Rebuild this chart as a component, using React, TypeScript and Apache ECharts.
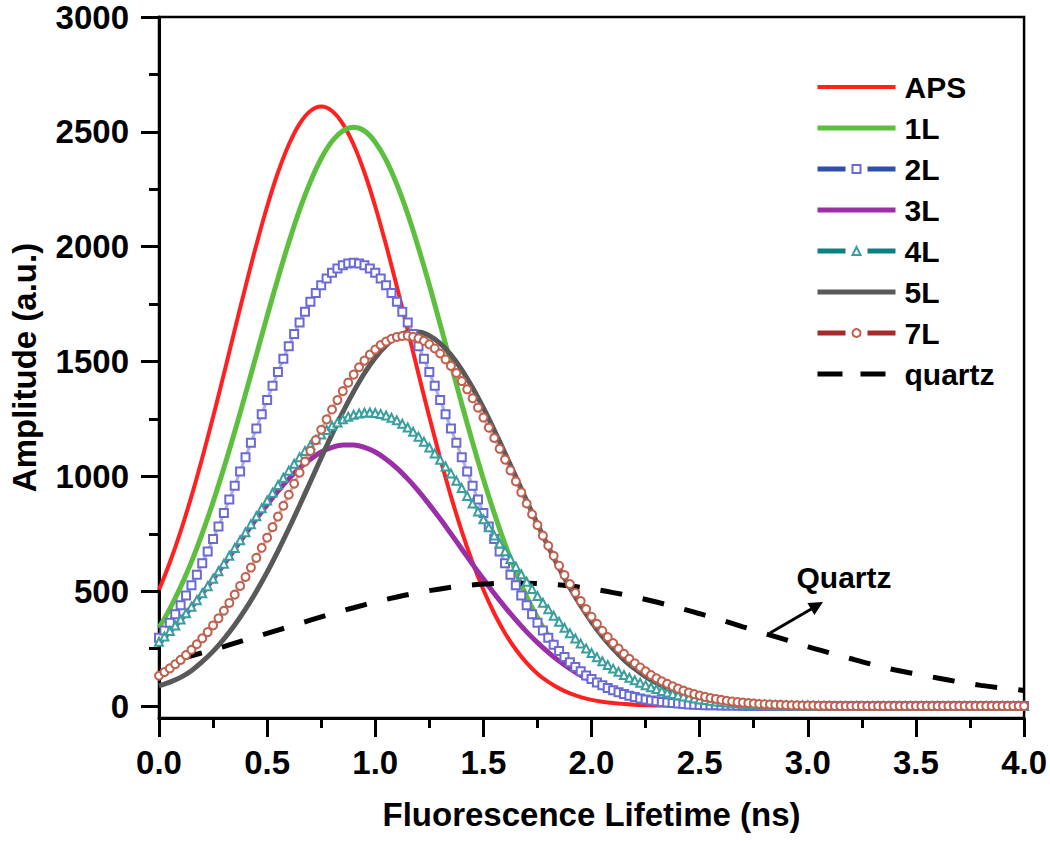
import React, { useEffect, useRef } from "react";
import * as echarts from "echarts";

const FONT = '"Liberation Sans", Arial, Helvetica, sans-serif';

// sampling of the curves (ns)
const X_STEP = 0.05; // solid-line series, from 0.0
const X_STEP_FINE = 0.025; // symbol series, from 0.0
const QUARTZ_X0 = 0.1;
const QUARTZ_STEP = 0.1;

// tick values
const yMajorTicks = [0, 500, 1000, 1500, 2000, 2500, 3000];
const yMinorTicks = [250, 750, 1250, 1750, 2250, 2750];

// series values (a.u.)
const aps = [506, 625, 761, 913, 1080, 1259, 1446, 1637, 1826, 2007, 2175, 2323, 2444, 2535, 2591, 2610, 2591, 2535, 2444, 2323, 2175, 2007, 1826, 1637, 1446, 1259, 1080, 913, 761, 625, 506, 404, 317, 246, 188, 141, 105, 77, 55, 39, 27, 19, 13, 9, 6, 4, 2, 2, 1, 1, 0, 0, 0, 0, 0, 0, 0, 0, 0, 0, 0, 0, 0, 0, 0, 0, 0, 0, 0, 0, 0, 0, 0, 0, 0, 0, 0, 0, 0, 0, 0];

const l1 = [341, 423, 519, 628, 752, 888, 1036, 1194, 1359, 1528, 1698, 1862, 2018, 2160, 2283, 2384, 2459, 2504, 2520,
  2504, 2455, 2377, 2271, 2142, 1994, 1833, 1662, 1489, 1315, 1148, 988, 840, 705, 584, 477, 385, 307, 241, 187, 143, 108, 81, 60, 43, 31, 22, 15, 11, 7, 5, 3, 2, 1, 1,
  0, 0, 0, 0, 0, 0, 0, 0, 0, 0, 0, 0, 0, 0, 0, 0, 0, 0, 0, 0, 0, 0, 0, 0, 0, 0, 0];

const l2 = [297, 329, 363, 400, 439, 481, 526, 572, 622, 673, 727, 782, 840, 899, 959, 1021, 1083, 1146, 1208, 1271, 1333, 1394, 1454, 1512, 1567, 1620, 1670, 1717, 1760, 1798, 1832, 1861, 1886, 1905, 1919, 1927, 1930,
  1927, 1919, 1905, 1886, 1861, 1832, 1798, 1760, 1717, 1670, 1620, 1567, 1512, 1454, 1394, 1333, 1271, 1208, 1146, 1083, 1021, 959, 899, 840, 782, 727, 673, 622, 572, 526, 481, 439, 400, 363, 329, 297,
  267, 240, 214, 191, 170, 151, 133, 118, 103, 91, 79, 69, 60, 52, 45, 39, 33, 29, 24, 21, 18, 15, 13, 11, 9, 7, 6, 5, 4, 4, 3, 2, 2, 2, 1, 1,
  0, 0, 0, 0, 0, 0, 0, 0, 0, 0, 0, 0, 0, 0, 0, 0, 0, 0, 0, 0, 0, 0, 0, 0, 0, 0, 0, 0, 0, 0, 0, 0, 0, 0, 0, 0, 0, 0, 0, 0, 0, 0, 0, 0, 0, 0, 0, 0, 0, 0, 0, 0];

const l3 = [276, 323, 375, 431, 490, 553, 617, 684, 750, 815, 877, 936, 989, 1036, 1075, 1106, 1126, 1137, 1137, 1126, 1106, 1075, 1036, 989, 936, 877, 815, 750, 684, 617, 553, 490, 431, 375, 323, 276, 234, 196, 163, 134, 110, 89, 71, 56, 44, 35, 27, 20, 15, 12, 9, 6, 5, 3, 2, 2, 1, 1, 0, 0, 0, 0, 0, 0, 0, 0, 0, 0, 0, 0, 0, 0, 0, 0, 0, 0, 0, 0, 0, 0, 0];

const l4 = [280, 303, 327, 351, 377, 404, 432, 461, 491, 522, 554, 587, 620, 654, 688, 722, 757, 792, 826, 861, 895, 929, 962, 994, 1025, 1055, 1083, 1111, 1136, 1160, 1182, 1202, 1220, 1235, 1249, 1260, 1268, 1274, 1277, 1278,
  1276, 1272, 1265, 1255, 1244, 1229, 1213, 1194, 1173, 1151, 1126, 1100, 1072, 1043, 1013, 981, 949, 915, 882, 847, 813, 778, 743, 708, 674, 640, 607, 574, 541, 510, 479, 450, 421, 393, 367, 341, 317, 294, 272, 251,
  231, 213, 195, 179, 163, 149, 135, 123, 112, 101, 91, 82, 74, 66, 59, 53, 47, 42, 37, 33, 29, 26, 23, 20, 18, 15, 14, 12, 10, 9, 8, 7, 6, 5, 4, 4, 3, 3, 2, 2, 2, 1, 1, 1, 1,
  0, 0, 0, 0, 0, 0, 0, 0, 0, 0, 0, 0, 0, 0, 0, 0, 0, 0, 0, 0, 0, 0, 0, 0, 0, 0, 0, 0, 0, 0, 0, 0, 0, 0, 0, 0];

const l5 = [88, 104, 125, 154, 193, 238, 292, 353, 422, 499, 583, 675, 772, 873, 977, 1081, 1183, 1280, 1369, 1449, 1517, 1570, 1607, 1627, 1629, 1612, 1579, 1529, 1464, 1386, 1298, 1202, 1101, 998, 894, 792, 694, 601, 515, 437, 366, 303, 249, 201, 162, 128, 100, 78, 60, 45, 34, 25, 18, 13, 10, 7, 5, 3, 2, 2, 1, 1, 0, 0, 0, 0, 0, 0, 0, 0, 0, 0, 0, 0, 0, 0, 0, 0, 0, 0, 0];

const l7 = [132, 148, 164, 182, 201, 222, 245, 269, 295, 322, 351, 382, 415, 449, 485, 523, 562, 603, 645, 689, 733, 779, 825, 872, 920, 968, 1016, 1064, 1111, 1158, 1203, 1248, 1291, 1332, 1371, 1408, 1443, 1475, 1504, 1530,
  1552, 1572, 1587, 1599, 1607, 1611, 1612, 1608, 1601, 1590, 1575, 1557, 1535, 1509, 1481, 1450, 1415, 1379, 1340, 1299, 1256, 1212, 1167, 1120, 1073, 1026, 978, 930, 882, 835, 788, 742, 698, 654, 611, 570, 531, 493, 457, 422,
  389, 358, 328, 300, 274, 250, 227, 206, 186, 168, 151, 135, 121, 108, 97, 86, 76, 67, 59, 52, 46, 40, 35, 31, 27, 23, 20, 17, 15, 13, 11, 9, 8, 7, 6, 5, 4, 3, 3, 2, 2, 2, 1, 1, 1,
  0, 0, 0, 0, 0, 0, 0, 0, 0, 0, 0, 0, 0, 0, 0, 0, 0, 0, 0, 0, 0, 0, 0, 0, 0, 0, 0, 0, 0, 0, 0, 0, 0, 0, 0, 0];

const quartz = [206, 232, 259, 288, 316, 345, 374, 402, 428, 453, 475, 494, 510, 523, 531, 535, 535, 531, 523, 510, 494, 475, 453, 428, 402, 374, 345, 316, 288, 259, 232, 206, 181, 158, 140, 122, 105, 90, 78, 68];

function pairs(x0: number, step: number, values: number[]) {
  return values.map((v, i) => [Math.round((x0 + i * step) * 1000) / 1000, v]);
}

const tickLine = { color: "#000", width: 3 };
const labelStyle = { fontSize: 33, fontWeight: "bold" as const, color: "#000", fontFamily: FONT };

function solid(name: string, values: number[], color: string, width: number) {
  return {
    name,
    type: "line",
    data: pairs(0, X_STEP, values),
    smooth: 0.4,
    symbol: "none",
    clip: false,
    lineStyle: { color, width },
    itemStyle: { color },
  };
}

function marked(name: string, values: number[], symbol: string, color: string) {
  return {
    name,
    type: "line",
    data: pairs(0, X_STEP_FINE, values),
    symbol,
    symbolSize: 8,
    showAllSymbol: true,
    clip: false,
    lineStyle: { color, width: 3, opacity: 0.55 },
    itemStyle: { color, borderWidth: 1.5 },
  };
}

const hideSymbol = { opacity: 0 };

export default function App() {
  const ref = useRef<HTMLDivElement>(null);
  useEffect(() => {
    if (!ref.current) return;
    const chart = echarts.init(ref.current, undefined, { renderer: "svg" });
    const option: any = {
      animation: false,
      backgroundColor: "#fff",
      grid: { left: 157, right: 23, top: 17, bottom: 123, show: true, borderColor: "#000", borderWidth: 2.5, backgroundColor: "transparent" },
      xAxis: {
        type: "value",
        min: 0,
        max: 4,
        interval: 0.5,
        name: "Fluorescence Lifetime (ns)",
        nameLocation: "middle",
        nameGap: 80,
        nameTextStyle: labelStyle,
        axisLine: { show: true, onZero: false, lineStyle: tickLine },
        axisTick: { show: true, inside: false, length: 19, lineStyle: tickLine },
        minorTick: { show: true, splitNumber: 2, length: 10, lineStyle: tickLine },
        axisLabel: { ...labelStyle, margin: 28, formatter: (v: number) => v.toFixed(1) },
        splitLine: { show: false },
        minorSplitLine: { show: false },
      },
      yAxis: [
        {
          type: "value",
          min: -52,
          max: 3000,
          position: "left",
          name: "Amplitude (a.u.)",
          nameLocation: "middle",
          nameGap: 118,
          nameRotate: 90,
          nameTextStyle: labelStyle,
          axisLine: { show: true, onZero: false, lineStyle: tickLine },
          axisTick: { show: true, inside: false, length: 18, customValues: yMajorTicks, lineStyle: tickLine },
          axisLabel: { ...labelStyle, margin: 30, customValues: yMajorTicks, formatter: (v: number) => String(v) },
          splitLine: { show: false },
        },
        {
          type: "value",
          min: -52,
          max: 3000,
          position: "left",
          axisLine: { show: false },
          axisTick: { show: true, inside: false, length: 10, customValues: yMinorTicks, lineStyle: tickLine },
          axisLabel: { show: false },
          splitLine: { show: false },
        },
      ],
      legend: {
        orient: "vertical",
        left: 815,
        top: 72,
        padding: 0,
        itemWidth: 78,
        itemHeight: 10,
        itemGap: 11,
        selectedMode: false,
        textStyle: { fontSize: 30, fontWeight: "bold", color: "#000", fontFamily: FONT, lineHeight: 30, padding: [0, 0, 0, 4] },
        data: [
          { name: "APS", itemStyle: hideSymbol, lineStyle: { color: "#FF2020", width: 4 } },
          { name: "1L", itemStyle: hideSymbol, lineStyle: { color: "#5CBF3E", width: 5 } },
          { name: "2L", lineStyle: { color: "#2F4FAF", width: 5, opacity: 1, type: [28, 22] } },
          { name: "3L", itemStyle: hideSymbol, lineStyle: { color: "#9A2FA8", width: 5 } },
          { name: "4L", lineStyle: { color: "#0A8282", width: 5, opacity: 1, type: [28, 22] } },
          { name: "5L", itemStyle: hideSymbol, lineStyle: { color: "#595959", width: 5 } },
          { name: "7L", lineStyle: { color: "#A52A2A", width: 5, opacity: 1, type: [28, 22] } },
          { name: "quartz", itemStyle: hideSymbol, lineStyle: { color: "#000", width: 5, type: [25, 18] } },
        ],
      },
      series: [
        solid("APS", aps, "#FF2020", 4),
        solid("1L", l1, "#5CBF3E", 5),
        marked("2L", l2, "emptyRect", "#6A6AD6"),
        solid("3L", l3, "#9A2FA8", 5),
        marked("4L", l4, "emptyTriangle", "#3A9E9E"),
        solid("5L", l5, "#595959", 5),
        marked("7L", l7, "emptyCircle", "#C0604E"),
        {
          name: "quartz",
          type: "line",
          data: pairs(QUARTZ_X0, QUARTZ_STEP, quartz),
          smooth: 0.4,
          symbol: "none",
          clip: false,
          lineStyle: { color: "#000", width: 5, type: [22, 21] },
          itemStyle: { color: "#000" },
        },
      ],
      graphic: [
        {
          type: "text",
          style: {
            text: "Quartz",
            x: 844,
            y: 577,
            align: "center",
            verticalAlign: "middle",
            textAlign: "center",
            textVerticalAlign: "middle",
            font: `bold 30px ${FONT}`,
            fill: "#000",
          },
        },
        { type: "line", shape: { x1: 770, y1: 633, x2: 813, y2: 608 }, style: { stroke: "#000", lineWidth: 3 } },
        { type: "polygon", shape: { points: [[823, 602], [814.4, 615.1], [807.4, 603.1]] }, style: { fill: "#000" } },
      ],
    };
    chart.setOption(option);
    return () => chart.dispose();
  }, []);
  return <div ref={ref} style={{ position: "absolute", left: 0, top: 0, width: 1050, height: 841 }} />;
}
